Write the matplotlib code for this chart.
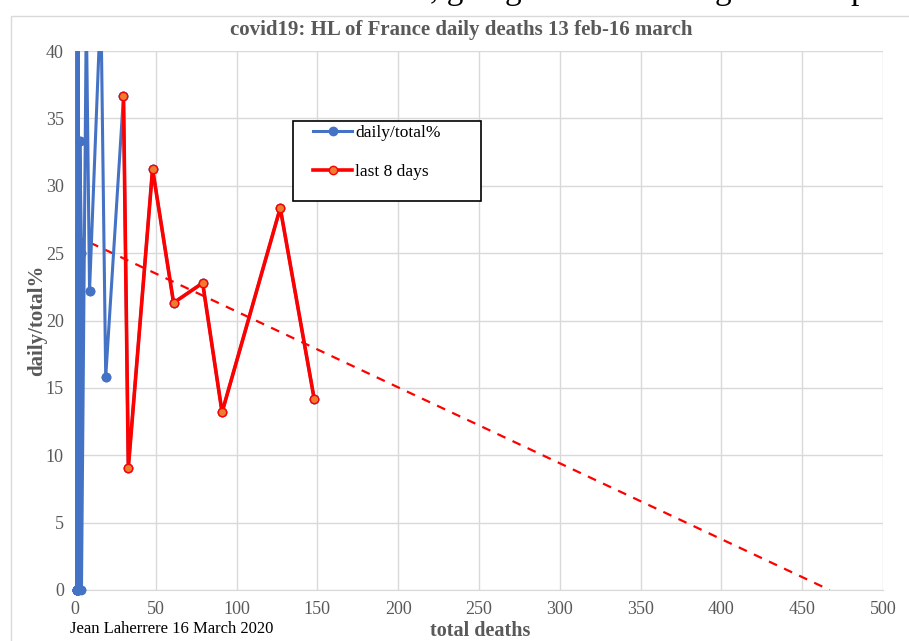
import matplotlib
matplotlib.use("Agg")
import matplotlib.pyplot as plt
from matplotlib.patches import Rectangle
import numpy as np

# cumulative deaths France 13 Feb - 16 March 2020
total_deaths = [1]*13 + [2]*5 + [3, 4, 4, 7, 9, 16, 19, 30, 33, 48, 61, 79, 91, 127, 148]
daily = [1] + [0]*12 + [1] + [0]*4 + [1, 1, 0, 3, 2, 7, 3, 11, 3, 15, 13, 18, 12, 36, 21]
daily_pct = [100.0 * d / t for d, t in zip(daily, total_deaths)]

last8_total = total_deaths[-8:]
last8_pct = daily_pct[-8:]

trend_intercept = 26.3
trend_zero = 467.0

xticks = list(range(0, 501, 50))
yticks = list(range(0, 41, 5))

W, H = 909, 641
fig = plt.figure(figsize=(W/100, H/100), dpi=100)
serif = ["Liberation Serif", "DejaVu Serif"]
gray = "#595959"

# chart border
fig.patches.append(Rectangle((11/W, -0.01), 1.0, 1 - 16/H + 0.01, transform=fig.transFigure,
                             fill=False, edgecolor="#D9D9D9", linewidth=1.0))

ax = fig.add_axes([75/W, 1 - 590/H, (883-75)/W, (590-51)/H])
ax.set_xlim(0, 500)
ax.set_ylim(0, 40)
ax.set_xticks(xticks)
ax.set_yticks(yticks)
ax.grid(True, color="#D9D9D9", linewidth=1.0)
ax.set_axisbelow(True)
for s in ["top", "right", "left"]:
    ax.spines[s].set_visible(False)
ax.spines["bottom"].set_color("#D9D9D9")
ax.tick_params(length=0, labelsize=13, labelcolor=gray, pad=8)
for lab in ax.get_xticklabels() + ax.get_yticklabels():
    lab.set_family(serif)

blue = "#4472C4"
ax.plot(total_deaths, daily_pct, color=blue, linewidth=2.2, marker="o", markersize=6,
        label="daily/total%", zorder=3)
# markers on the baseline, unclipped
vis = [(t, p) for t, p in zip(total_deaths, daily_pct) if p <= 40]
ax.plot([v[0] for v in vis], [v[1] for v in vis], linestyle="none", marker="o",
        markersize=6, color=blue, clip_on=False, zorder=3)

ax.plot(last8_total, last8_pct, color="#FF0000", linewidth=2.6, marker="o", markersize=6,
        markerfacecolor="#ED7D31", markeredgecolor="#FF0000", markeredgewidth=1.0,
        label="last 8 days", zorder=4)

tx = np.array([0.0, trend_zero])
ty = trend_intercept * (1 - tx / trend_zero)
ax.plot(tx, ty, color="#FF0000", linewidth=1.6, linestyle=(0, (4, 3.5)), zorder=2)

# legend box
box = Rectangle((293/W, 1 - 201/H), (481-293)/W, (201-121)/H,
                transform=fig.transFigure, facecolor="white",
                edgecolor="black", linewidth=1.2, zorder=5, clip_on=False)
ax.add_patch(box)
leg = ax.legend(loc="upper left", bbox_to_anchor=((308-75)/808, (590-120)/539),
                prop={"family": serif, "size": 12.5}, frameon=False,
                labelspacing=1.3, borderpad=0.3, handlelength=2.25,
                handletextpad=0.15, borderaxespad=0)
leg.set_zorder(6)

ax.set_ylabel("daily/total%", fontsize=15, fontweight="bold", color=gray,
              family=serif, labelpad=-1)
fig.text(480/W, 1 - 631/H, "total deaths", ha="center", va="center", fontsize=14.5,
         fontweight="bold", color=gray, family=serif)
fig.text(70/W, 1 - 629/H, "Jean Laherrere 16 March 2020", ha="left", va="center",
         fontsize=12, color="black", family=serif)
fig.text(461/W, 1 - 30/H, "covid19: HL of France daily deaths 13 feb-16 march",
         ha="center", va="center", fontsize=15, fontweight="bold", color=gray,
         family=serif)

# partially visible heading above the chart (only descenders show)
top_base = 1 + 1.0/H
for xpix, s in [(430, ", g"), (505, "g"), (715, "g"), (850, "p")]:
    fig.text(xpix/W, top_base, s, ha="left", va="baseline", fontsize=24,
             color="black", family=serif)

fig.savefig("out.png", dpi=100)
